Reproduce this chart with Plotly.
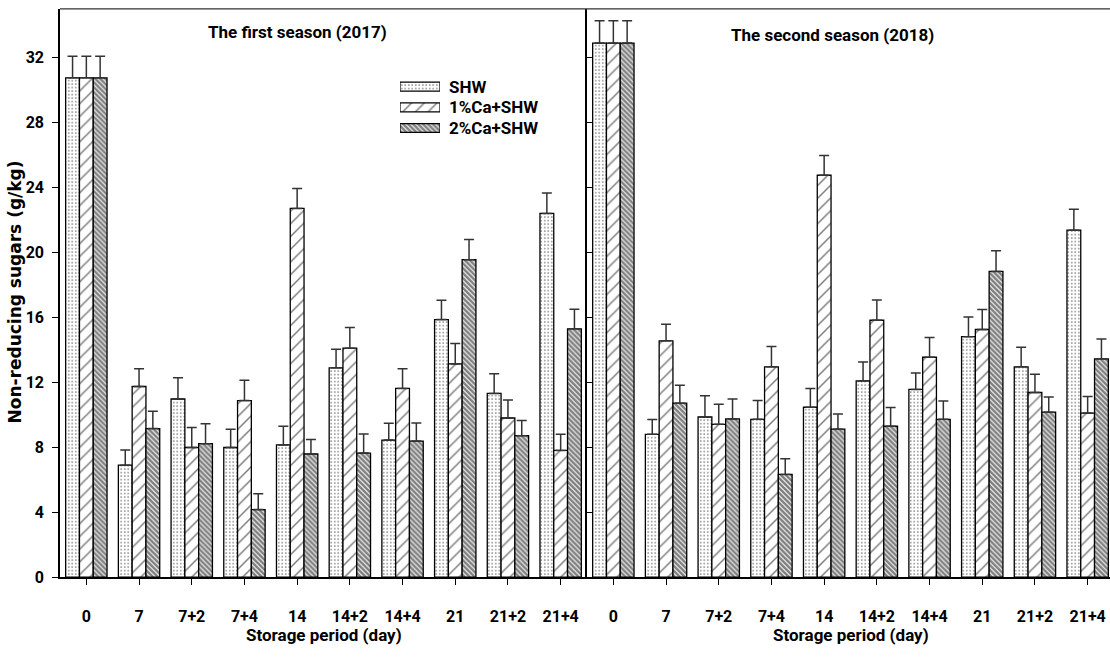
import plotly.graph_objects as go

W, H = 1110, 657

categories = ["0", "7", "7+2", "7+4", "14", "14+2", "14+4", "21", "21+2", "21+4"]
series_names = ["SHW", "1%Ca+SHW", "2%Ca+SHW"]

# First season (2017)
s1_shw = [30.75, 6.89, 10.97, 7.98, 8.14, 12.89, 8.44, 15.86, 11.31, 22.40]
s1_ca1 = [30.75, 11.74, 7.98, 10.87, 22.71, 14.10, 11.62, 13.13, 9.80, 7.80]
s1_ca2 = [30.75, 9.15, 8.22, 4.16, 7.58, 7.64, 8.38, 19.55, 8.71, 15.29]
e1_shw = [1.33, 0.93, 1.31, 1.13, 1.15, 1.15, 1.03, 1.19, 1.22, 1.25]
e1_ca1 = [1.33, 1.09, 1.23, 1.25, 1.23, 1.27, 1.21, 1.25, 1.11, 1.00]
e1_ca2 = [1.33, 1.07, 1.22, 0.97, 0.89, 1.17, 1.11, 1.25, 0.93, 1.21]

# Second season (2018)
s2_shw = [32.89, 8.79, 9.86, 9.72, 10.46, 12.08, 11.56, 14.81, 12.95, 21.37]
s2_ca1 = [32.89, 14.55, 9.41, 12.95, 24.75, 15.82, 13.54, 15.25, 11.37, 10.10]
s2_ca2 = [32.89, 10.71, 9.74, 6.32, 9.11, 9.29, 9.72, 18.83, 10.16, 13.44]
e2_shw = [1.37, 0.91, 1.31, 1.15, 1.16, 1.17, 1.01, 1.21, 1.21, 1.28]
e2_ca1 = [1.37, 1.03, 1.24, 1.25, 1.21, 1.25, 1.21, 1.23, 1.13, 1.03]
e2_ca2 = [1.37, 1.11, 1.23, 0.97, 0.93, 1.15, 1.13, 1.27, 0.93, 1.23]

y_ticks = [0, 4, 8, 12, 16, 20, 24, 28, 32]

NARROW = "Roboto, Liberation Sans, Arial, sans-serif"
WIDE = "DejaVu Sans, Liberation Sans, Arial, sans-serif"

patterns = [
    dict(shape=".", size=3.5, solidity=0.16, fgcolor="black", bgcolor="white", fillmode="overlay"),
    dict(shape="/", size=9, solidity=0.17, fgcolor="black", bgcolor="white", fillmode="overlay"),
    dict(shape="\\", size=3.5, solidity=0.72, fgcolor="black", bgcolor="white", fillmode="overlay"),
]


def px_x(p):
    return p / W


def px_y(p):
    return 1 - p / H


fig = go.Figure()

panels = [
    ("x", "y", [s1_shw, s1_ca1, s1_ca2], [e1_shw, e1_ca1, e1_ca2]),
    ("x2", "y2", [s2_shw, s2_ca1, s2_ca2], [e2_shw, e2_ca1, e2_ca2]),
]
for xa, ya, vals, errs in panels:
    for i in range(3):
        fig.add_trace(go.Bar(
            x=categories, y=vals[i], name=series_names[i],
            xaxis=xa, yaxis=ya, showlegend=False,
            marker=dict(color="white", pattern=patterns[i],
                        line=dict(color="black", width=1.3)),
            error_y=dict(type="data", symmetric=False, array=errs[i],
                         arrayminus=[0] * len(errs[i]),
                         color="#333333", thickness=1.5, width=5),
        ))

# custom legend swatches
for i in range(3):
    fig.add_trace(go.Bar(
        x=[1], y=[i], orientation="h", base=0, width=0.43, offset=-0.215,
        xaxis="x3", yaxis="y3", showlegend=False, hoverinfo="skip",
        marker=dict(color="white", pattern=patterns[i],
                    line=dict(color="black", width=1.2)),
    ))

xl = [60 / W, 587 / W]
xr = [587 / W, 1.0]
yd = [px_y(586), px_y(9)]
tickfont = dict(family=NARROW, size=16, color="black", weight="bold")

common_x = dict(
    type="category", categoryorder="array", categoryarray=categories,
    showline=True, linecolor="black", linewidth=1.5,
    ticks="outside", ticklen=6, tickwidth=1.2, tickcolor="black",
    tickfont=tickfont, showgrid=False, zeroline=False, ticklabelstandoff=18,
)

fig.update_layout(
    width=W, height=H, margin=dict(l=0, r=0, t=0, b=0),
    paper_bgcolor="white", plot_bgcolor="white",
    barmode="group", bargap=0.215, bargroupgap=0,
    showlegend=False,
    xaxis=dict(domain=xl, range=[-0.5, 9.5], anchor="y", **common_x),
    xaxis2=dict(domain=xr, range=[-0.5, -0.5 + (1110 - 587) / 52.7], anchor="y2", **common_x),
    yaxis=dict(domain=yd, range=[0, 35], anchor="x", tickvals=y_ticks,
               showline=True, linecolor="black", linewidth=1.5,
               ticks="outside", ticklen=6, tickwidth=1.2, tickcolor="black",
               tickfont=tickfont, showgrid=False, zeroline=False, ticklabelstandoff=5),
    yaxis2=dict(domain=yd, range=[0, 35], anchor="x2", tickvals=y_ticks,
                showline=True, linecolor="black", linewidth=1.5,
                ticks="inside", ticklen=6, tickwidth=1.2, tickcolor="black",
                showticklabels=False, showgrid=False, zeroline=False),
    xaxis3=dict(domain=[400 / W, 440 / W], range=[0, 1], anchor="y3",
                visible=False, fixedrange=True),
    yaxis3=dict(domain=[px_y(140.5), px_y(77.5)], range=[2.5, -0.5], anchor="x3",
                visible=False, fixedrange=True),
)

# top borders
for x0, x1 in [(60, 587), (587, 1110)]:
    fig.add_shape(type="line", xref="paper", yref="paper",
                  x0=px_x(x0), x1=px_x(x1), y0=px_y(9), y1=px_y(9),
                  line=dict(color="#333333", width=1.2))

annots = [
    dict(text="The first season (2017)", x=px_x(297), y=px_y(33), size=17),
    dict(text="The second season (2018)", x=px_x(832), y=px_y(36), size=17),
    dict(text="Storage period (day)", x=px_x(323.5), y=px_y(645), size=17),
    dict(text="Storage period (day)", x=px_x(851), y=px_y(645), size=17),
]
for a in annots:
    fig.add_annotation(text=a["text"], x=a["x"], y=a["y"], xref="paper", yref="paper",
                       showarrow=False, xanchor="center", yanchor="middle",
                       font=dict(family=NARROW, size=a["size"], color="black", weight="bold"))

fig.add_annotation(text="Non-reducing sugars (g/kg)", x=px_x(15), y=px_y(297),
                   xref="paper", yref="paper", showarrow=False, textangle=-90,
                   xanchor="center", yanchor="middle",
                   font=dict(family=WIDE, size=17, color="black", weight="bold"))

for i, (name, yy) in enumerate(zip(series_names, [88, 109, 130])):
    fig.add_annotation(text=name, x=px_x(447), y=px_y(yy), xref="paper", yref="paper",
                       showarrow=False, xanchor="left", yanchor="middle",
                       font=dict(family=NARROW, size=17, color="black", weight="bold"))

fig.write_html("out.html")
